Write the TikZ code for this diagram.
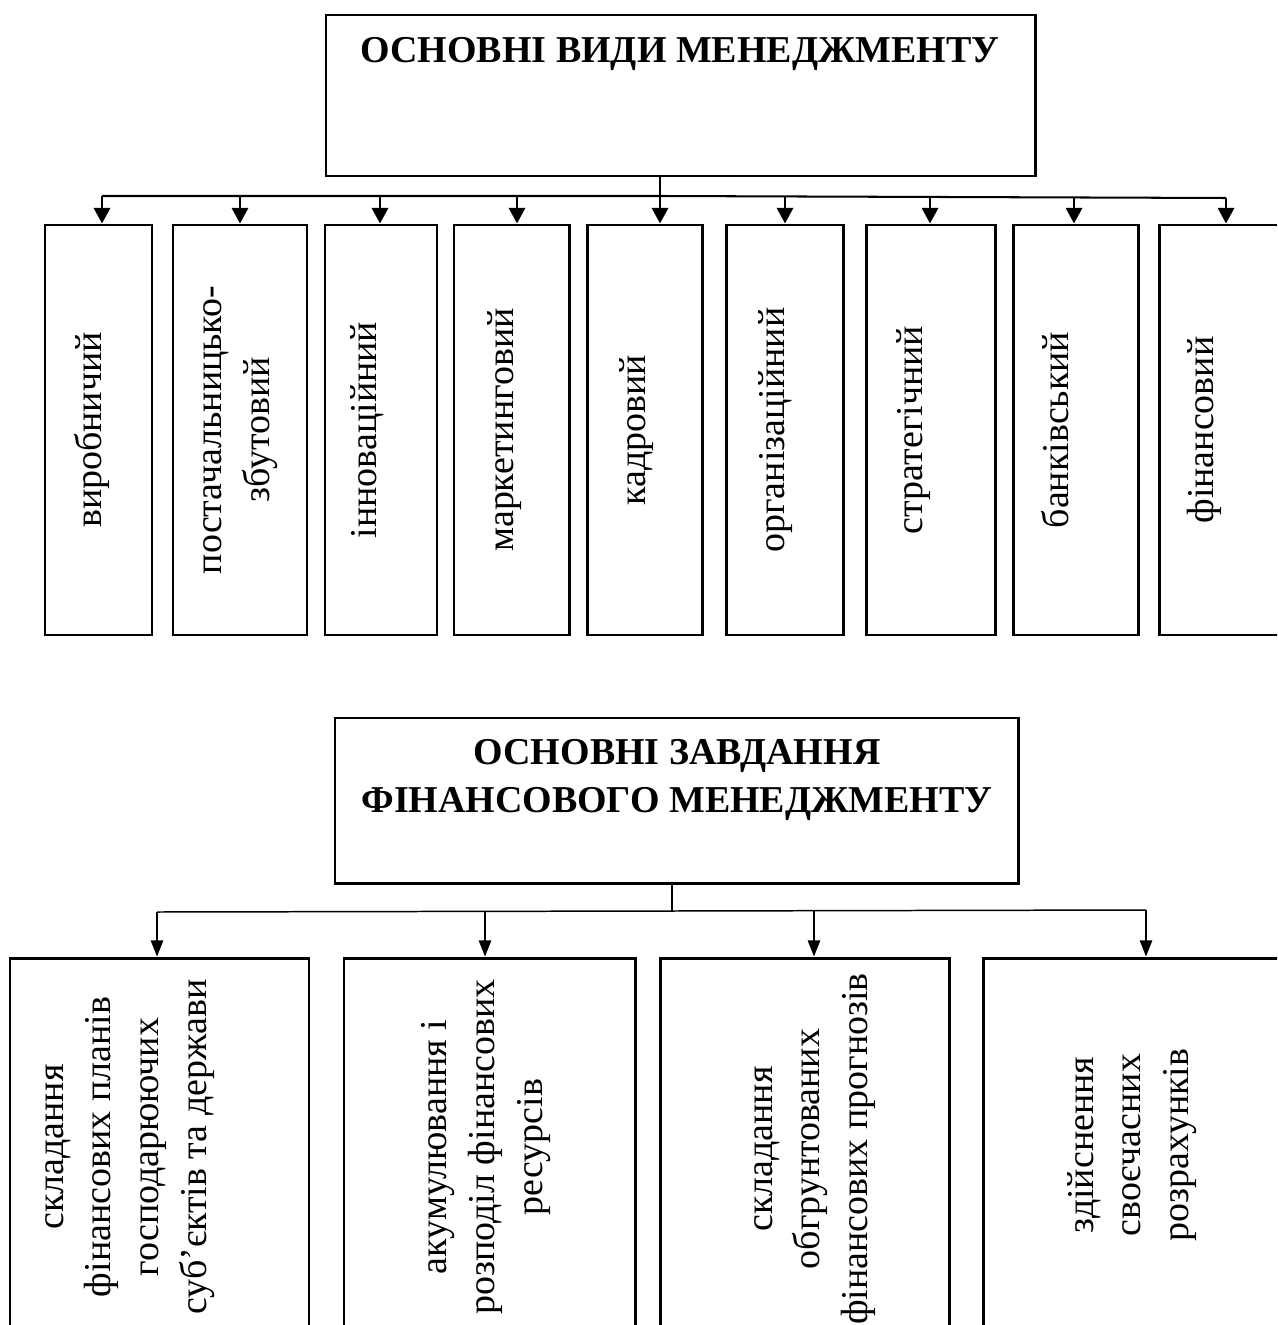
\documentclass[tikz,border=0pt]{standalone}
\usepackage{fontspec}
\setmainfont{Liberation Serif}
\usetikzlibrary{arrows.meta,fit}
\newcommand\mkbox[5]{\coordinate (#1a) at (#2,#3); \coordinate (#1b) at (#4,#5); \node[bx,fit=(#1a)(#1b)] (#1) {};}
\begin{document}
\begin{tikzpicture}[x=0.3689pt,y=-0.3689pt,
  bx/.style={draw,line width=1.1pt,inner sep=0pt},
  txt/.style={font=\fontsize{14pt}{17.6pt}\selectfont,inner sep=0pt},
  ttl/.style={font=\fontsize{14pt}{17.4pt}\selectfont\bfseries,inner sep=0pt,align=center},
  vtxt/.style={txt,rotate=90,anchor=base},
  vmulti/.style={txt,rotate=90,align=center,anchor=center},
  hconn/.style={line width=0.75pt},
  tarr/.style={line width=1pt,-{Triangle[length=5.8pt,width=6pt]}},
  barr/.style={line width=0.6pt,-{Triangle[length=6pt,width=4.6pt]}},
  bconn/.style={line width=0.55pt}]
\useasboundingbox (0,0) rectangle (1277,1325);
\clip (0,0) rectangle (1277,1325);
% ---------- top part ----------
\mkbox{tb}{326}{15}{1035}{176}
\node[ttl,anchor=base] (tbt) at (680,63) {ОСНОВНІ ВИДИ МЕНЕДЖМЕНТУ};
\mkbox{b1}{45}{225}{152}{635}
\mkbox{b2}{173}{225}{307}{635}
\mkbox{b3}{325}{225}{437}{635}
\mkbox{b4}{454}{225}{569}{635}
\mkbox{b5}{587}{225}{702}{635}
\mkbox{b6}{726}{225}{843}{635}
\mkbox{b7}{866}{225}{995}{635}
\mkbox{b8}{1013}{225}{1138}{635}
\mkbox{b9}{1159}{225}{1295}{635}
\node[vtxt] (l1) at (101,430) {виробничий};
\node[vmulti] (l2) at (241,430) {постачальницько-\\збутовий};
\node[vtxt] (l3) at (376,430) {інноваційний};
\node[vtxt] (l4) at (513,430) {маркетинговий};
\node[vtxt] (l5) at (645,430) {кадровий};
\node[vtxt] (l6) at (784,430) {організаційний};
\node[vtxt] (l7) at (922,430) {стратегічний};
\node[vtxt] (l8) at (1068,430) {банківський};
\node[vtxt] (l9) at (1213,430) {фінансовий};
\coordinate (a1) at (102,196);
\coordinate (a2) at (240,196);
\coordinate (a3) at (380,196);
\coordinate (a4) at (517,196);
\coordinate (a5) at (660,196);
\coordinate (a6) at (785,197);
\coordinate (a7) at (930,197);
\coordinate (a8) at (1074,197);
\coordinate (a9) at (1226,198);
\draw[hconn] (a1) -- (a5) -- (a9);
\draw[tarr] (tb.south -| a5) -- (a5 |- b5.north);
\foreach \i in {1,2,3,4,6,7,8,9} {\draw[tarr] (a\i) -- (a\i |- b\i.north);}
% ---------- bottom part ----------
\mkbox{bt}{335}{718}{1018}{883}
\node[ttl] (btt) at (677,780) {ОСНОВНІ ЗАВДАННЯ\\[0.6pt]ФІНАНСОВОГО МЕНЕДЖМЕНТУ};
\mkbox{c1}{10}{958}{309}{1340}
\mkbox{c2}{344}{958}{635}{1340}
\mkbox{c3}{660}{958}{949}{1340}
\mkbox{c4}{983}{958}{1295}{1340}
\node[vmulti] (m1) at (130,1147) {складання\\фінансових планів\\господарюючих\\суб’єктів та держави};
\node[vmulti] (m2) at (486,1147) {акумулювання і\\розподіл фінансових\\ресурсів};
\node[vmulti] (m3) at (815,1149) {складання\\обгрунтованих\\фінансових прогнозів};
\node[vmulti] (m4) at (1132,1145) {здійснення\\своєчасних\\розрахунків};
\coordinate (d1) at (157,912);
\coordinate (d2) at (485,911);
\coordinate (d3) at (814,911);
\coordinate (d4) at (1146,910);
\coordinate (dm) at (672,911);
\draw[bconn] (d1) -- (dm) -- (d4);
\draw[bconn] (bt.south -| dm) -- (dm);
\foreach \i in {1,2,3,4} {\draw[barr] (d\i) -- (d\i |- c\i.north);}
\end{tikzpicture}
\end{document}
